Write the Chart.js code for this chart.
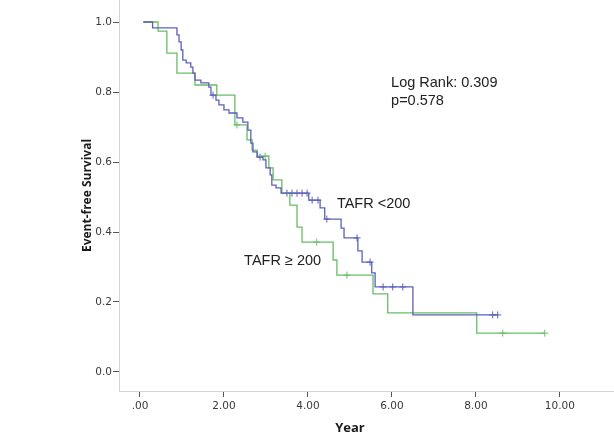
<!DOCTYPE html>
<html><head><meta charset="utf-8">
<script src="https://cdn.jsdelivr.net/npm/chart.js@4.4.1/dist/chart.umd.min.js"></script>
<style>html,body{margin:0;padding:0;background:#fff;}#wrap{width:614px;height:439px;}</style>
</head><body><div id="wrap"><canvas id="c" width="614" height="439"></canvas></div>
<script>
const xTickValues = [0, 2, 4, 6, 8, 10];
const xTickLabels = ['.00', '2.00', '4.00', '6.00', '8.00', '10.00'];
const yTickValues = [0, 0.2, 0.4, 0.6, 0.8, 1.0];
const yTickLabels = ['0.0', '0.2', '0.4', '0.6', '0.8', '1.0'];

const seriesNames = ['TAFR <200', 'TAFR \u2265 200'];

// TAFR <200 (blue): event times and survival after each step
const blueTimes = [0.08, 0.30, 0.88, 0.93, 0.98, 1.02, 1.10, 1.21, 1.26, 1.31, 1.45, 1.64, 1.69, 1.81, 1.88, 2.00, 2.12, 2.31, 2.45, 2.57, 2.64, 2.69, 2.79, 2.93, 3.00, 3.10, 3.14, 3.24, 3.36, 4.02, 4.29, 4.40, 4.79, 4.86, 5.19, 5.29, 5.52, 5.60, 6.50, 8.52];
const blueSurv  = [1.0, 0.983, 0.963, 0.943, 0.920, 0.891, 0.883, 0.871, 0.854, 0.834, 0.826, 0.814, 0.791, 0.777, 0.763, 0.749, 0.740, 0.726, 0.714, 0.691, 0.654, 0.629, 0.614, 0.606, 0.583, 0.563, 0.534, 0.526, 0.511, 0.491, 0.469, 0.437, 0.411, 0.383, 0.346, 0.314, 0.283, 0.243, 0.163, 0.163];
const blueCensorTimes = [1.74, 2.86, 3.50, 3.62, 3.74, 3.86, 3.98, 4.10, 4.24, 4.45, 5.17, 5.48, 5.79, 6.02, 6.26, 8.40, 8.52];
const blueCensorSurv  = [0.791, 0.614, 0.511, 0.511, 0.511, 0.511, 0.511, 0.491, 0.491, 0.437, 0.383, 0.314, 0.243, 0.243, 0.243, 0.163, 0.163];

// TAFR >= 200 (green)
const greenTimes = [0.08, 0.43, 0.64, 0.88, 1.31, 1.83, 2.26, 2.55, 2.67, 2.79, 3.07, 3.17, 3.38, 3.57, 3.74, 3.86, 4.60, 4.69, 5.55, 5.90, 8.02, 9.64];
const greenSurv  = [1.0, 0.974, 0.911, 0.854, 0.820, 0.791, 0.706, 0.663, 0.634, 0.617, 0.583, 0.549, 0.511, 0.477, 0.414, 0.371, 0.320, 0.277, 0.223, 0.169, 0.111, 0.111];
const greenCensorTimes = [2.31, 2.98, 4.21, 4.93, 8.64, 9.64];
const greenCensorSurv  = [0.706, 0.617, 0.371, 0.277, 0.111, 0.111];

const BLUE = 'rgb(92,96,186)';
const GREEN = 'rgb(104,190,104)';

const pts = (xs, ys) => xs.map((x, i) => ({x: x, y: ys[i]}));

const annotPlugin = {
  id: 'annot',
  afterDatasetsDraw(chart) {
    const {ctx, scales: {x, y}} = chart;
    ctx.save();
    ctx.fillStyle = '#222';
    ctx.textAlign = 'left';
    ctx.textBaseline = 'alphabetic';
    ctx.font = '14.5px "Liberation Sans", Arial, sans-serif';
    ctx.fillText('Log Rank: 0.309', x.getPixelForValue(5.98), y.getPixelForValue(0.814));
    ctx.fillText('p=0.578', x.getPixelForValue(5.98), y.getPixelForValue(0.763));
    ctx.fillText(seriesNames[0], x.getPixelForValue(4.69), y.getPixelForValue(0.469));
    ctx.fillText(seriesNames[1], x.getPixelForValue(2.48), y.getPixelForValue(0.306));
    ctx.font = 'bold 13px "Open Sans", sans-serif';
    ctx.textAlign = 'center';
    ctx.textBaseline = 'middle';
    ctx.fillStyle = '#1a1a1a';
    ctx.fillText('Year', 350, 428);
    ctx.restore();
  }
};

const noPad = s => { s.paddingTop = 0; s.paddingBottom = 0; s.paddingLeft = 0; s.paddingRight = 0; };

new Chart(document.getElementById('c'), {
  type: 'line',
  data: {
    datasets: [
      {label: seriesNames[0], data: pts(blueTimes, blueSurv), stepped: 'before', borderColor: BLUE, borderWidth: 1.3, pointRadius: 0, fill: false},
      {label: seriesNames[1], data: pts(greenTimes, greenSurv), stepped: 'before', borderColor: GREEN, borderWidth: 1.3, pointRadius: 0, fill: false},
      {label: 'censored <200', type: 'scatter', data: pts(blueCensorTimes, blueCensorSurv), pointStyle: 'cross', pointRadius: 3.5, borderColor: BLUE, backgroundColor: BLUE, borderWidth: 1, showLine: false},
      {label: 'censored >=200', type: 'scatter', data: pts(greenCensorTimes, greenCensorSurv), pointStyle: 'cross', pointRadius: 3.5, borderColor: GREEN, backgroundColor: GREEN, borderWidth: 1, showLine: false}
    ]
  },
  options: {
    responsive: false,
    animation: false,
    layout: {padding: 0, autoPadding: false},
    plugins: {legend: {display: false}, tooltip: {enabled: false}},
    scales: {
      x: {
        type: 'linear', min: -0.5, max: 11.29,
        afterBuildTicks: s => { s.ticks = xTickValues.map(v => ({value: v})); },
        afterFit: s => { s.height = 48; noPad(s); },
        ticks: {callback: (v, i) => xTickLabels[i], font: {family: 'DejaVu Sans', size: 10.5}, color: '#3a3a3a', padding: 3, maxRotation: 0, autoSkip: false},
        grid: {drawOnChartArea: false, drawTicks: true, tickLength: 6, tickColor: '#555', tickWidth: 1},
        border: {color: '#d4d4d4', width: 1}
      },
      y: {
        type: 'linear', min: -0.0543, max: 1.0629,
        afterBuildTicks: s => { s.ticks = yTickValues.map(v => ({value: v})); },
        afterFit: s => { s.width = 119; noPad(s); },
        ticks: {callback: (v, i) => yTickLabels[i], font: {family: 'DejaVu Sans', size: 10.5}, color: '#3a3a3a', padding: 1, autoSkip: false},
        grid: {drawOnChartArea: false, drawTicks: true, tickLength: 6, tickColor: '#555', tickWidth: 1},
        border: {color: '#d4d4d4', width: 1},
        title: {display: true, text: 'Event-free Survival', font: {family: 'Open Sans', weight: 'bold', size: 12}, color: '#1a1a1a', padding: {top: 80, bottom: 0}}
      }
    }
  },
  plugins: [annotPlugin]
});
</script>
</body></html>
